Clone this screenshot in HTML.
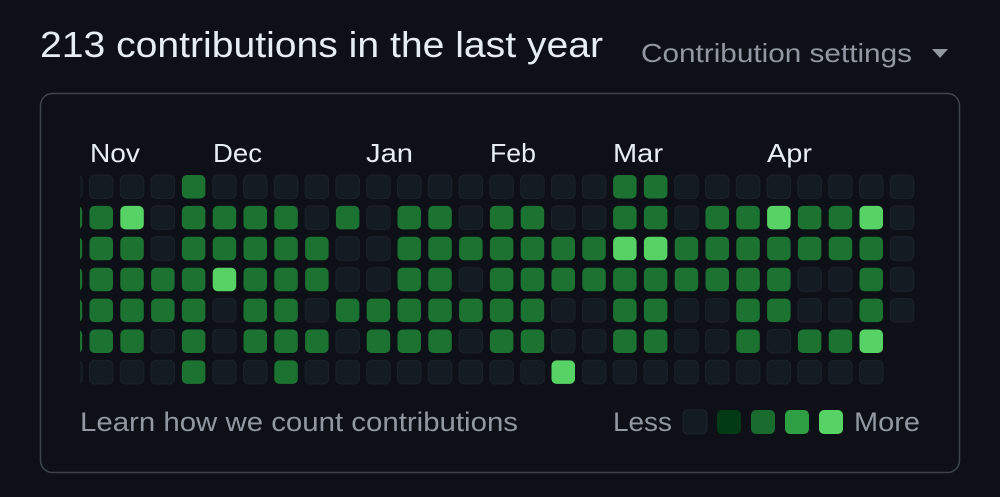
<!DOCTYPE html>
<html><head><meta charset="utf-8"><style>
html,body{margin:0;padding:0;background:#0d1117;width:1000px;height:497px;overflow:hidden}
svg{display:block}
text{font-family:"Liberation Sans",sans-serif}
</style></head><body>
<svg id="s" width="1000" height="497" viewBox="0 0 1000 497" xmlns="http://www.w3.org/2000/svg">
<rect width="1000" height="497" fill="#0d1117"/>
<text x="40" y="57" font-size="36" fill="#e6edf3" textLength="563" lengthAdjust="spacingAndGlyphs">213 contributions in the last year</text>
<text x="641" y="62" font-size="26" fill="#9198a1" textLength="271" lengthAdjust="spacingAndGlyphs">Contribution settings</text>
<polygon points="932,49 948,49 940,58" fill="#9198a1"/>
<rect x="40.5" y="93.5" width="919" height="379" rx="12" fill="#0d1117" stroke="#3d444d" stroke-width="1.5"/>
<g font-size="26" fill="#e6edf3">
<text x="90" y="162" textLength="50" lengthAdjust="spacingAndGlyphs">Nov</text><text x="213" y="162" textLength="49" lengthAdjust="spacingAndGlyphs">Dec</text><text x="366" y="162" textLength="47" lengthAdjust="spacingAndGlyphs">Jan</text>
<text x="490" y="162" textLength="46" lengthAdjust="spacingAndGlyphs">Feb</text><text x="613" y="162" textLength="50" lengthAdjust="spacingAndGlyphs">Mar</text><text x="767" y="162" textLength="45" lengthAdjust="spacingAndGlyphs">Apr</text>
</g>
<g id="grid"></g>
<text x="80" y="431" font-size="27" fill="#9198a1" textLength="438" lengthAdjust="spacingAndGlyphs">Learn how we count contributions</text>
<text x="613" y="431" font-size="27" fill="#9198a1" textLength="59" lengthAdjust="spacingAndGlyphs">Less</text>
<text x="854" y="431" font-size="27" fill="#9198a1" textLength="66" lengthAdjust="spacingAndGlyphs">More</text>
<rect x="683" y="410" width="24" height="24" rx="5" fill="#151b23" stroke="#1f252d"/>
<rect x="717" y="410" width="24" height="24" rx="5" fill="#033a16"/>
<rect x="751" y="410" width="24" height="24" rx="5" fill="#196c2e"/>
<rect x="785" y="410" width="24" height="24" rx="5" fill="#2ea043"/>
<rect x="819" y="410" width="24" height="24" rx="5" fill="#56d364"/>
</svg>
<script>
var cols=["0222220","0222220","0422220","0002200","2222222","0224000","0222220","0222222","0022020","0200200","0000220","0222220","0222220","0020200","0222220","0222220","0022004","0022000","2242220","2242220","0022000","0222000","0222220","0422200","0220020","0220020","0422240","00000"];
var colors={"0":"#151b23","2":"#1c7230","4":"#56d364"};
var g=document.getElementById("grid"),ns="http://www.w3.org/2000/svg";
var cp=document.createElementNS(ns,"clipPath");cp.setAttribute("id","c");
var cr=document.createElementNS(ns,"rect");cr.setAttribute("x",80);cr.setAttribute("y",0);cr.setAttribute("width",900);cr.setAttribute("height",497);
cp.appendChild(cr);g.appendChild(cp);g.setAttribute("clip-path","url(#c)");
for(var c=0;c<cols.length;c++){for(var r=0;r<cols[c].length;r++){
var v=cols[c][r];var e=document.createElementNS(ns,"rect");
e.setAttribute("x",(58.7+c*30.8).toFixed(1));e.setAttribute("y",(175+r*30.9).toFixed(1));
e.setAttribute("width",23.5);e.setAttribute("height",23.5);e.setAttribute("rx",5);
e.setAttribute("fill",colors[v]);if(v=="0"){e.setAttribute("stroke","#1c222a");e.setAttribute("stroke-width","1");}
g.appendChild(e);}}
</script>
</body></html>
